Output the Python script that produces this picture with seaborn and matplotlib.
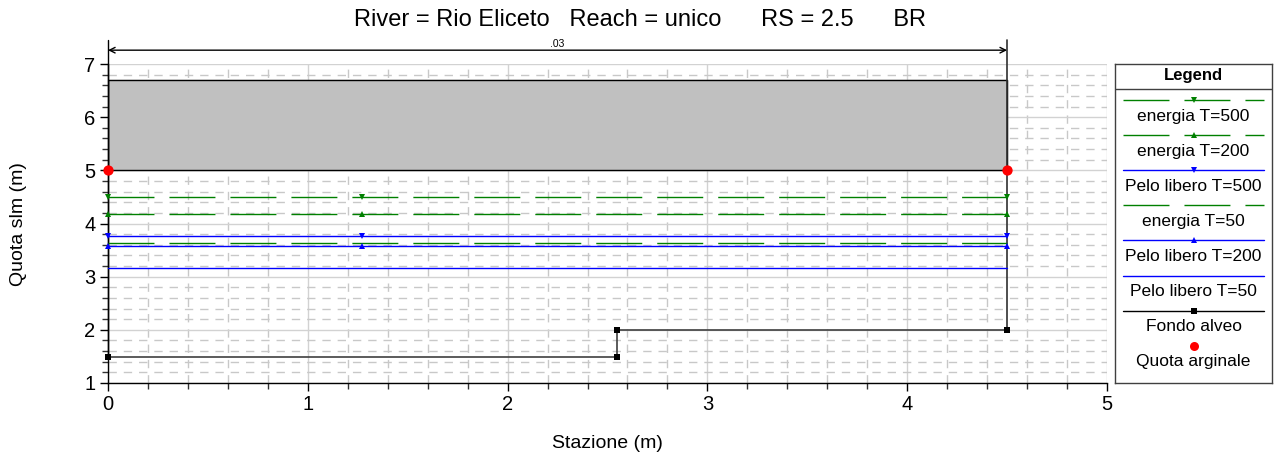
import numpy as np
import pandas as pd
import matplotlib
matplotlib.use("Agg")
import matplotlib.pyplot as plt
from matplotlib.ticker import MultipleLocator
import seaborn as sns

# ---------------- data ----------------
title_text = "River = Rio Eliceto   Reach = unico      RS = 2.5      BR"
stations_ws = [0.0, 1.27, 4.5]
energia_T500 = [4.49, 4.49, 4.49]
energia_T200 = [4.18, 4.18, 4.18]
pelo_T500 = [3.77, 3.77, 3.77]
energia_T50 = [3.64, 3.64, 3.64]
pelo_T200 = [3.57, 3.57, 3.57]
pelo_T50 = [3.16, 3.16, 3.16]
fondo_x = [0.0, 2.55, 2.55, 4.5]
fondo_y = [1.48, 1.48, 2.0, 2.0]
argine_x = [0.0, 4.5]
argine_y = [5.0, 5.0]
deck_x = [0.0, 4.5]
deck_low = [5.0, 5.0]
deck_high = [6.7, 6.7]
deck_label = ".03"
x_ticks = [0, 1, 2, 3, 4, 5]
y_ticks = [1, 2, 3, 4, 5, 6, 7]
legend_labels = ["energia T=500", "energia T=200", "Pelo libero T=500", "energia T=50",
                 "Pelo libero T=200", "Pelo libero T=50", "Fondo alveo", "Quota arginale"]

# ---------------- style ----------------
sns.set_theme(style="white")
plt.rcParams['font.family'] = ['Liberation Sans', 'DejaVu Sans']
plt.rcParams['lines.scale_dashes'] = False
plt.rcParams['text.color'] = 'black'
plt.rcParams['axes.labelcolor'] = 'black'
plt.rcParams['xtick.color'] = 'black'
plt.rcParams['ytick.color'] = 'black'

DASH = (0, (33.1, 10.8))
GREEN = "#008000"
BLUE = "#0000ff"
styles = {
    "energia T=500": dict(color=GREEN, ls=DASH, lw=1.0, marker="v", ms=5),
    "energia T=200": dict(color=GREEN, ls=DASH, lw=1.0, marker="^", ms=5),
    "Pelo libero T=500": dict(color=BLUE, ls="-", lw=1.0, marker="v", ms=5),
    "energia T=50": dict(color=GREEN, ls=DASH, lw=1.0, marker=None),
    "Pelo libero T=200": dict(color=BLUE, ls="-", lw=1.0, marker="^", ms=5),
    "Pelo libero T=50": dict(color=BLUE, ls="-", lw=1.0, marker=None),
    "Fondo alveo": dict(color="#202020", ls="-", lw=1.0, marker="s", ms=4.5),
    "Quota arginale": dict(color="red", ls="none", marker="o", ms=6),
}
series_ws = {
    "energia T=500": energia_T500,
    "energia T=200": energia_T200,
    "Pelo libero T=500": pelo_T500,
    "energia T=50": energia_T50,
    "Pelo libero T=200": pelo_T200,
    "Pelo libero T=50": pelo_T50,
}

W, H = 1276, 459
fig = plt.figure(figsize=(W / 100, H / 100), dpi=100)
ax = fig.add_axes([108 / W, 1 - 383 / H, 999 / W, 319 / H])

# grid
ax.set_xlim(0, 5)
ax.set_ylim(1, 7)
ax.set_xticks(x_ticks)
ax.set_yticks(y_ticks)
ax.xaxis.set_minor_locator(MultipleLocator(0.2))
ax.yaxis.set_minor_locator(MultipleLocator(0.2))
ax.set_axisbelow(True)
ax.grid(which="major", color="#d2d2d2", lw=1.0, ls="-")
ax.grid(which="minor", color="#c8c8c8", lw=1.0, ls=(0, (6, 5)))
ax.tick_params(axis="both", which="major", direction="out", length=6, width=1,
               color="black", labelcolor="black", labelsize=14.5, pad=3,
               bottom=True, left=True)
ax.tick_params(axis="both", which="minor", direction="out", length=4, width=1,
               color="#333333", bottom=True, left=True)
for s in ["top", "right"]:
    ax.spines[s].set_visible(False)
for s in ["left", "bottom"]:
    ax.spines[s].set_color("black")
    ax.spines[s].set_linewidth(1.0)

# bridge deck
ax.fill_between(deck_x, deck_low, deck_high, color="#c0c0c0", zorder=2)
ax.plot([deck_x[0], deck_x[1], deck_x[1], deck_x[0], deck_x[0]],
        [deck_low[0], deck_low[1], deck_high[1], deck_high[0], deck_low[0]],
        color="black", lw=1.0, zorder=3)

# water-surface / energy lines
for name, vals in series_ws.items():
    st = styles[name]
    df = pd.DataFrame({"x": stations_ws, "y": vals})
    kw = dict(color=st["color"], linestyle=st["ls"], linewidth=st["lw"])
    if st["marker"]:
        kw.update(marker=st["marker"], markersize=st["ms"], markeredgewidth=0)
    sns.lineplot(data=df, x="x", y="y", estimator=None, sort=False, ax=ax, zorder=4,
                 clip_on=False, **kw)

# ground
st = styles["Fondo alveo"]
df_f = pd.DataFrame({"x": fondo_x, "y": fondo_y})
sns.lineplot(data=df_f, x="x", y="y", estimator=None, sort=False, ax=ax, zorder=4,
             color="#404040", linewidth=1.2, marker="s", markersize=st["ms"],
             markerfacecolor="black", markeredgecolor="black", markeredgewidth=0,
             clip_on=False)

# abutment verticals extending above axes
top_ext = 7.45
ax.plot([fondo_x[-1], fondo_x[-1]], [fondo_y[-1], top_ext], color="#303030", lw=1.2,
        clip_on=False, zorder=3)
ax.plot([fondo_x[0], fondo_x[0]], [fondo_y[0], top_ext], color="black", lw=1.0,
        clip_on=False, zorder=3)

# bank elevation points
sns.scatterplot(x=argine_x, y=argine_y, ax=ax, color="red", s=55, linewidth=0,
                zorder=6, clip_on=False)

# dimension line
dim_y = 7.26
ax.annotate("", xy=(deck_x[0], dim_y), xytext=(deck_x[1], dim_y),
            arrowprops=dict(arrowstyle="<->", lw=1.0, color="black",
                            shrinkA=0, shrinkB=0, mutation_scale=10),
            annotation_clip=False)
ax.text(np.mean(deck_x), dim_y + 0.03, deck_label, ha="center", va="bottom", fontsize=7.5,
        color="black")

ax.set_xlabel("")
ax.set_ylabel("")
fig.text(607 / W, 1 - 444 / H, "Stazione (m)", ha="center", va="center", fontsize=14,
         color="black")
fig.text(19 / W, 1 - 224 / H, "Quota slm (m)", ha="center", va="center",
         rotation=90, fontsize=14, color="black")
fig.text(640 / W, 1 - 20 / H, title_text, ha="center", va="center", fontsize=17,
         color="black")

# ---------------- custom legend ----------------
lx0, ly0, lw_, lh_ = 1115, 64, 157, 319
lax = fig.add_axes([lx0 / W, 1 - (ly0 + lh_) / H, lw_ / W, lh_ / H])
lax.set_xlim(0, lw_)
lax.set_ylim(lh_, 0)
lax.set_xticks([])
lax.set_yticks([])
lax.set_facecolor("white")
for s in lax.spines.values():
    s.set_visible(True)
    s.set_color("#404040")
    s.set_linewidth(1.0)
lax.text(lw_ / 2, 11.5, "Legend", ha="center", va="center", fontsize=12,
         fontweight="bold", color="black")
lax.plot([0, lw_], [25, 25], color="#404040", lw=1.0)
step = 35.1
for i, name in enumerate(legend_labels):
    yl = 36 + step * i
    st = styles[name]
    xs = [8, 78.5, 149]
    if name == "Quota arginale":
        lax.plot([78.5], [yl], marker="o", color="red", ms=6.5, ls="none", markeredgewidth=0)
    else:
        col = "black" if name == "Fondo alveo" else st["color"]
        kw = dict(color=col, linestyle=st["ls"], linewidth=st["lw"])
        if st["marker"]:
            kw.update(marker=st["marker"], markersize=st["ms"], markevery=[1],
                      markeredgewidth=0)
        lax.plot(xs, [yl] * 3, **kw)
    lax.text(lw_ / 2, yl + 16, name, ha="center", va="center", fontsize=12.5,
             color="black")

fig.savefig("out.png", dpi=100)
